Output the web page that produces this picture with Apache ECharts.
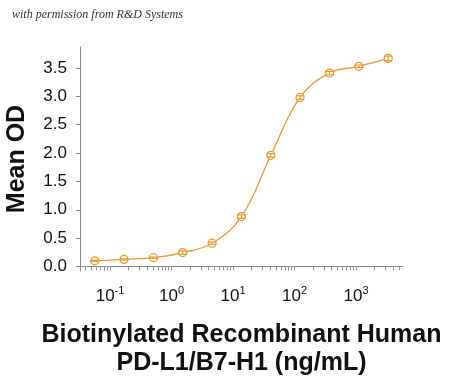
<!DOCTYPE html>
<html>
<head>
<meta charset="utf-8">
<script src="https://cdn.jsdelivr.net/npm/echarts@6.0.0/dist/echarts.min.js"></script>
<style>
html, body { margin: 0; padding: 0; background: #fff; }
#chart { width: 450px; height: 376px; }
</style>
</head>
<body>
<div id="chart"></div>
<script>
// concentration (ng/mL), 3-fold dilution
var conc = [0.0564, 0.169, 0.508, 1.52, 4.57, 13.7, 41.2, 123, 370, 1111, 3333];
var meanOD = [0.10, 0.125, 0.155, 0.245, 0.41, 0.88, 1.96, 2.98, 3.41, 3.53, 3.67];
var errOD = [0.01, 0.01, 0.01, 0.03, 0.02, 0.03, 0.03, 0.03, 0.03, 0.02, 0.04];
var yTicks = [0, 0.5, 1.0, 1.5, 2.0, 2.5, 3.0, 3.5];
var xMajor = [0.1, 1, 10, 100, 1000];

var orange = '#EC982B';
var xMin = 0.0325, xMax = 5800;

var xMinor = [];
for (var d = -2; d <= 3; d++) {
	for (var m = 1; m <= 9; m++) {
		var v = m * Math.pow(10, d);
		if (v >= xMin && v <= xMax) xMinor.push(v);
	}
}

var pts = [];
var bars = [];
for (var i = 0; i < conc.length; i++) {
	pts.push([conc[i], meanOD[i]]);
	bars.push([conc[i], meanOD[i] - errOD[i], meanOD[i] + errOD[i]]);
}

var chart = echarts.init(document.getElementById('chart'));
var option = {
	animation: false,
	graphic: [{
		type: 'text',
		left: 12,
		top: 9,
		style: {
			text: 'with permission from R&D Systems',
			font: 'italic 12px "Liberation Serif"',
			fill: '#333'
		}
	}],
	grid: { left: 80, right: 47, top: 47, bottom: 105, outerBoundsMode: 'none', containLabel: false },
	xAxis: {
		type: 'log',
		logBase: 10,
		min: xMin,
		max: xMax,
		name: 'Biotinylated Recombinant Human\nPD-L1/B7-H1 (ng/mL)',
		nameLocation: 'middle',
		nameGap: 50,
		nameTextStyle: {
			fontFamily: 'Liberation Sans',
			fontWeight: 'bold',
			fontSize: 25,
			lineHeight: 28,
			color: '#111'
		},
		axisLine: { lineStyle: { color: '#888', width: 1 } },
		axisTick: { show: true, length: 4, customValues: xMinor, lineStyle: { color: '#999' } },
		axisLabel: {
			customValues: xMajor,
			margin: 14,
			formatter: function (v) {
				var e = Math.round(Math.log(v) / Math.LN10);
				return '{b|10}{s|' + e + '}';
			},
			rich: {
				b: { fontFamily: 'Liberation Sans', fontSize: 17, color: '#111', verticalAlign: 'bottom', lineHeight: 20 },
				s: { fontFamily: 'Liberation Sans', fontSize: 11, color: '#111', verticalAlign: 'top', lineHeight: 20, padding: [0, 0, 6, 0] }
			}
		},
		splitLine: { show: false },
		minorTick: { show: false }
	},
	yAxis: {
		type: 'value',
		min: -0.08,
		max: 3.87,
		name: 'Mean OD',
		nameLocation: 'middle',
		nameGap: 50,
		nameTextStyle: {
			fontFamily: 'Liberation Sans',
			fontWeight: 'bold',
			fontSize: 25,
			color: '#111'
		},
		axisLine: { show: true, lineStyle: { color: '#888', width: 1 } },
		axisTick: { show: true, length: 4, customValues: yTicks, lineStyle: { color: '#888' } },
		axisLabel: {
			customValues: yTicks,
			margin: 13,
			fontFamily: 'Liberation Sans',
			fontSize: 17,
			color: '#111',
			formatter: function (v) { return v.toFixed(1); }
		},
		splitLine: { show: false }
	},
	series: [
		{
			type: 'line',
			data: pts,
			smooth: 0.4,
			symbol: 'circle',
			symbolSize: 8,
			itemStyle: { color: '#fff', borderColor: orange, borderWidth: 1.3 },
			lineStyle: { color: orange, width: 1.3 },
			z: 3
		},
		{
			type: 'custom',
			data: bars,
			z: 4,
			renderItem: function (params, api) {
				var x = api.value(0);
				var lo = api.coord([x, api.value(1)]);
				var hi = api.coord([x, api.value(2)]);
				var w = 4;
				var st = { stroke: orange, lineWidth: 1.2 };
				return {
					type: 'group',
					children: [
						{ type: 'line', shape: { x1: lo[0], y1: lo[1], x2: hi[0], y2: hi[1] }, style: st },
						{ type: 'line', shape: { x1: lo[0] - w, y1: lo[1], x2: lo[0] + w, y2: lo[1] }, style: st },
						{ type: 'line', shape: { x1: hi[0] - w, y1: hi[1], x2: hi[0] + w, y2: hi[1] }, style: st }
					]
				};
			}
		}
	]
};
chart.setOption(option);
window.addEventListener('resize', function () {
	chart.resize();
});
</script>
</body>
</html>
